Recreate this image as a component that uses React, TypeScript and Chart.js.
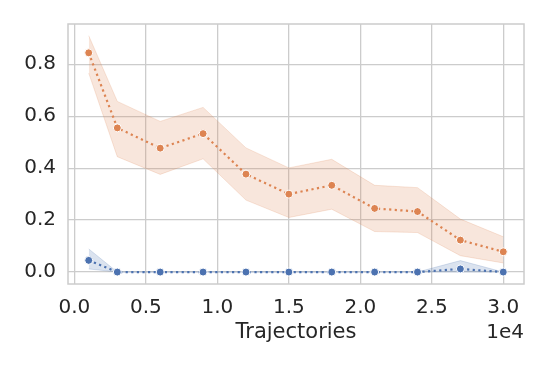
import React, { useEffect, useRef } from "react";
import { Chart, registerables } from "chart.js";

Chart.register(...registerables);

// ---- data (x in trajectories; ticks shown in units of 1e4) ----
const trajectories = [1000, 3000, 6000, 9000, 12000, 15000, 18000, 21000, 24000, 27000, 30000];
const orangeMean = [0.844, 0.555, 0.477, 0.533, 0.377, 0.3, 0.334, 0.245, 0.233, 0.123, 0.078];
const orangeUpper = [0.91, 0.657, 0.58, 0.634, 0.478, 0.401, 0.434, 0.334, 0.325, 0.204, 0.136];
const orangeLower = [0.766, 0.444, 0.376, 0.436, 0.277, 0.21, 0.242, 0.156, 0.152, 0.063, 0.035];
const blueMean = [0.045, 0, 0, 0, 0, 0, 0, 0, 0, 0.012, 0];
const blueUpper = [0.089, 0, 0, 0, 0, 0, 0, 0, 0, 0.044, 0];
const blueLower = [0.012, 0, 0, 0, 0, 0, 0, 0, 0, 0, 0];
const xTickValues = [0, 5000, 10000, 15000, 20000, 25000, 30000];
const yTickValues = [0, 0.2, 0.4, 0.6, 0.8];
const xLabel = "Trajectories";
const offsetText = "1e4";

const ORANGE = "#dd8452";
const BLUE = "#4c72b0";
const ORANGE_BAND = "rgba(221,132,82,0.2)";
const BLUE_BAND = "rgba(76,114,176,0.2)";
const TEXT = "#262626";
const GRID = "#cccccc";
const FONT = '"DejaVu Sans", sans-serif';

const pts = (ys: number[]) => trajectories.map((x, i) => ({ x, y: ys[i] }));

const framePlugin = {
  id: "frame",
  afterDraw(chart: any) {
    const { ctx, chartArea: a } = chart;
    ctx.save();
    ctx.strokeStyle = GRID;
    ctx.lineWidth = 1.5;
    ctx.strokeRect(a.left, a.top, a.right - a.left, a.bottom - a.top);
    ctx.fillStyle = TEXT;
    ctx.textBaseline = "alphabetic";
    ctx.font = `21px ${FONT}`;
    ctx.textAlign = "center";
    ctx.fillText(xLabel, (a.left + a.right) / 2, a.bottom + 54);
    ctx.font = `20px ${FONT}`;
    ctx.textAlign = "right";
    ctx.fillText(offsetText, a.right, a.bottom + 54);
    ctx.restore();
  },
};

const lineDs = (label: string, ys: number[], color: string) => ({
  label,
  data: pts(ys),
  borderColor: color,
  backgroundColor: color,
  borderWidth: 2.2,
  borderDash: [2.2, 3.4],
  pointRadius: 4,
  pointBackgroundColor: color,
  pointBorderColor: "#ffffff",
  pointBorderWidth: 1,
  fill: false,
  tension: 0,
});

const bandDs = (label: string, ys: number[], color: string, fill: any) => ({
  label,
  data: pts(ys),
  borderColor: color,
  backgroundColor: color,
  borderWidth: 1,
  pointRadius: 0,
  fill,
  tension: 0,
});

export default function App() {
  const ref = useRef<HTMLCanvasElement | null>(null);
  useEffect(() => {
    if (!ref.current) return;
    const chart = new Chart(ref.current, {
      type: "line",
      data: {
        datasets: [
          lineDs("orange", orangeMean, ORANGE),
          bandDs("orangeUpper", orangeUpper, ORANGE_BAND, "+1"),
          bandDs("orangeLower", orangeLower, ORANGE_BAND, false),
          lineDs("blue", blueMean, BLUE),
          bandDs("blueUpper", blueUpper, BLUE_BAND, "+1"),
          bandDs("blueLower", blueLower, BLUE_BAND, false),
        ] as any,
      },
      options: {
        animation: false,
        responsive: false,
        layout: { padding: { top: 23, right: 24, left: 0, bottom: 0 } },
        plugins: { legend: { display: false }, tooltip: { enabled: false } },
        scales: {
          x: {
            type: "linear",
            min: -450,
            max: 31450,
            afterBuildTicks: (axis: any) => {
              axis.ticks = xTickValues.map((v) => ({ value: v }));
            },
            afterFit: (axis: any) => {
              axis.height = 82;
            },
            grid: { color: GRID, lineWidth: 1.3, drawTicks: false },
            border: { display: false },
            ticks: {
              padding: 12,
              color: TEXT,
              font: { family: FONT, size: 20 },
              maxRotation: 0,
              callback: (v: any) => (Number(v) / 1e4).toFixed(1),
            },
          },
          y: {
            type: "linear",
            min: -0.046,
            max: 0.955,
            afterBuildTicks: (axis: any) => {
              axis.ticks = yTickValues.map((v) => ({ value: v }));
            },
            afterFit: (axis: any) => {
              axis.width = 68;
            },
            grid: { color: GRID, lineWidth: 1.3, drawTicks: false },
            border: { display: false },
            ticks: {
              padding: 12,
              color: TEXT,
              font: { family: FONT, size: 20 },
              callback: (v: any) => Number(v).toFixed(1),
            },
          },
        },
      } as any,
      plugins: [framePlugin],
    });
    return () => chart.destroy();
  }, []);
  return (
    <div style={{ position: "absolute", left: 0, top: 0, width: 548, height: 366, background: "#fff" }}>
      <canvas ref={ref} width={548} height={366} style={{ display: "block" }} />
    </div>
  );
}
